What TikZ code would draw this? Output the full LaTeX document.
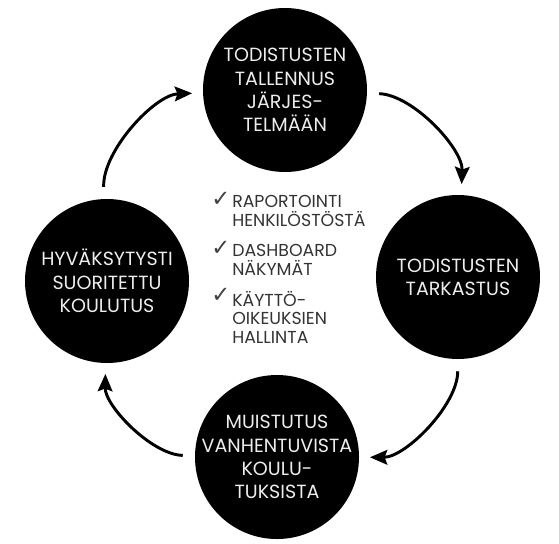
\documentclass[tikz,border=0pt]{standalone}
\usepackage{fontspec}
\setmainfont{Poppins}
\newfontfamily\symfont{DejaVu Sans}
\usetikzlibrary{arrows.meta,positioning}

\begin{document}
\begin{tikzpicture}[x=0.75pt,y=0.75pt,yscale=-1,xscale=1,
    stage/.style={circle,fill=black,minimum size=123pt,inner sep=0pt},
    stagetxt/.style={text=white!93!black,align=center,inner sep=0pt,font=\fontsize{14.3}{17.5}\selectfont},
    cyc/.style={line width=2.2pt,-{Stealth[length=13pt,width=11pt,inset=2pt]},shorten <=9pt,shorten >=8pt,bend right=45,looseness=0.85},
    item/.style={text=black!80,align=left,anchor=north west,inner sep=0pt,font=\fontsize{13}{13.9}\selectfont},
    tick/.style={text=black!75,anchor=north east,inner sep=0pt,font=\symfont\fontsize{17}{17}\selectfont}]
    \useasboundingbox (0,0) rectangle (559,543);

    % the four stages of the cycle
    \node [stage] (tallennus) at (285,90) {};
    \node [stage] (tarkastus) at (458,277) {};
    \node [stage] (muistutus) at (277,457) {};
    \node [stage] (koulutus) at (107,281) {};

    \node [stagetxt] (tallennus-t) at (tallennus) {TODISTUSTEN\\TALLENNUS\\JÄRJES-\\TELMÄÄN};
    \node [stagetxt] (tarkastus-t) at (tarkastus) {TODISTUSTEN\\TARKASTUS};
    \node [stagetxt] (muistutus-t) at (muistutus) {MUISTUTUS\\VANHENTUVISTA\\KOULU-\\TUKSISTA};
    \node [stagetxt] (koulutus-t) at (koulutus) {HYVÄKSYTYSTI\\SUORITETTU\\KOULUTUS};

    % arrows round the cycle
    \draw [cyc] (koulutus) to (tallennus);
    \draw [cyc] (tallennus) to (tarkastus);
    \draw [cyc] (tarkastus) to (muistutus);
    \draw [cyc] (muistutus) to (koulutus);

    % list in the middle
    \node [item] (raportointi) at (232,195) {RAPORTOINTI\\HENKILÖSTÖSTÄ};
    \node [item] (dashboard) at (232,244) {DASHBOARD\\NÄKYMÄT};
    \node [item] (oikeudet) at (232,291) {KÄYTTÖ-\\OIKEUKSIEN\\HALLINTA};

    \node [tick] (tick1) at ([xshift=-1pt,yshift=-2pt]raportointi.north west) {✓};
    \node [tick] (tick2) at ([xshift=-1pt,yshift=-2pt]dashboard.north west) {✓};
    \node [tick] (tick3) at ([xshift=-1pt,yshift=-2pt]oikeudet.north west) {✓};

\end{tikzpicture}
\end{document}
